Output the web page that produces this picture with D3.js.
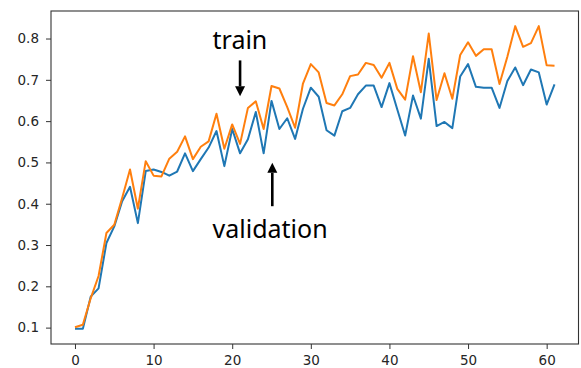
<!DOCTYPE html>
<html>
<head>
<meta charset="utf-8">
<script src="https://cdn.jsdelivr.net/npm/d3@7"></script>
<style>
  html, body { margin: 0; padding: 0; background: #fff; }
  svg { display: block; }
</style>
</head>
<body>
<svg id="chart" width="581" height="368"></svg>
<script>
// ---- data ----
const epochs = d3.range(0, 62);
const validation = [0.097, 0.097, 0.175, 0.195, 0.305, 0.345, 0.406, 0.441, 0.353, 0.479,
  0.483, 0.477, 0.468, 0.478, 0.522, 0.479, 0.508, 0.536, 0.576, 0.491,
  0.581, 0.522, 0.556, 0.622, 0.522, 0.649, 0.581, 0.607, 0.557, 0.630,
  0.681, 0.659, 0.578, 0.565, 0.624, 0.632, 0.665, 0.686, 0.686, 0.634,
  0.692, 0.628, 0.565, 0.662, 0.606, 0.751, 0.588, 0.598, 0.583, 0.708,
  0.738, 0.683, 0.681, 0.681, 0.632, 0.697, 0.730, 0.687, 0.725, 0.718,
  0.640, 0.689];
const train = [0.101, 0.107, 0.171, 0.225, 0.329, 0.349, 0.414, 0.483, 0.388, 0.503,
  0.468, 0.466, 0.509, 0.526, 0.563, 0.508, 0.538, 0.551, 0.618, 0.533,
  0.592, 0.545, 0.632, 0.648, 0.581, 0.685, 0.679, 0.634, 0.584, 0.691,
  0.738, 0.718, 0.644, 0.638, 0.665, 0.709, 0.713, 0.741, 0.736, 0.705,
  0.741, 0.678, 0.652, 0.757, 0.670, 0.812, 0.651, 0.716, 0.654, 0.760,
  0.791, 0.758, 0.774, 0.774, 0.690, 0.756, 0.830, 0.780, 0.789, 0.830,
  0.735, 0.734];
const xTicks = [0, 10, 20, 30, 40, 50, 60];
const yTicks = [0.1, 0.2, 0.3, 0.4, 0.5, 0.6, 0.7, 0.8];
const annotationLabels = ["train", "validation"];
const annotationTextX = [17.5, 17.5];
const annotationTextY = [0.774, 0.318];
const annotationArrowX = [21, 25.1];
const annotationArrowFrom = [0.747, 0.394];
const annotationArrowTo = [0.660, 0.499];

// ---- layout ----
const W = 581, H = 368;
const margin = { top: 11, right: 2.5, bottom: 24, left: 51 };
const svg = d3.select("#chart");
const iw = W - margin.left - margin.right, ih = H - margin.top - margin.bottom;
const g = svg.append("g").attr("transform", `translate(${margin.left},${margin.top})`);

const xmin = 0, xmax = epochs.length - 1;
const xPad = (xmax - xmin) * 0.05;
const x = d3.scaleLinear().domain([xmin - xPad, xmax + xPad]).range([0, iw]);
const all = validation.concat(train);
const [ymin, ymax] = d3.extent(all);
const yPad = (ymax - ymin) * 0.05;
const y = d3.scaleLinear().domain([ymin - yPad, ymax + yPad]).range([ih, 0]);

// axes
const fontFam = "'DejaVu Sans', sans-serif";
const xAxis = g.append("g").attr("transform", `translate(0,${ih})`)
  .call(d3.axisBottom(x).tickValues(xTicks).tickFormat(d3.format("d")).tickSize(5).tickPadding(6));
const yAxis = g.append("g")
  .call(d3.axisLeft(y).tickValues(yTicks).tickFormat(d3.format(".1f")).tickSize(5).tickPadding(7));
[xAxis, yAxis].forEach(a => {
  a.select(".domain").remove();
  a.selectAll(".tick line").attr("stroke", "#333").attr("stroke-width", 1);
  a.selectAll(".tick text").attr("fill", "#262626").style("font-family", fontFam).style("font-size", "13.5px");
});

// frame
g.append("rect").attr("x", 0).attr("y", 0).attr("width", iw).attr("height", ih)
  .attr("fill", "none").attr("stroke", "#333").attr("stroke-width", 1.1);

// lines
const line = vals => d3.line().x((d, i) => x(epochs[i])).y(d => y(d))(vals);
g.append("path").attr("d", line(validation)).attr("fill", "none")
  .attr("stroke", "#1f77b4").attr("stroke-width", 2).attr("stroke-linejoin", "round");
g.append("path").attr("d", line(train)).attr("fill", "none")
  .attr("stroke", "#ff7f0e").attr("stroke-width", 2).attr("stroke-linejoin", "round");

// annotations
const textFam = "'Noto Sans', 'Noto Sans CJK KR', sans-serif";
annotationLabels.forEach((label, k) => {
  g.append("text").text(label)
    .attr("x", x(annotationTextX[k])).attr("y", y(annotationTextY[k]))
    .style("font-family", textFam).style("font-size", "25px").attr("fill", "#000");
  const xf = x(annotationArrowX[k]), y0 = y(annotationArrowFrom[k]), y1 = y(annotationArrowTo[k]);
  const dir = y1 > y0 ? 1 : -1;
  const headLen = 10, headHalf = 5;
  g.append("line").attr("x1", xf).attr("x2", xf).attr("y1", y0).attr("y2", y1 - dir * headLen)
    .attr("stroke", "#000").attr("stroke-width", 2.6);
  g.append("path")
    .attr("d", `M${xf - headHalf},${y1 - dir * headLen} L${xf + headHalf},${y1 - dir * headLen} L${xf},${y1} Z`)
    .attr("fill", "#000");
});
</script>
</body>
</html>
